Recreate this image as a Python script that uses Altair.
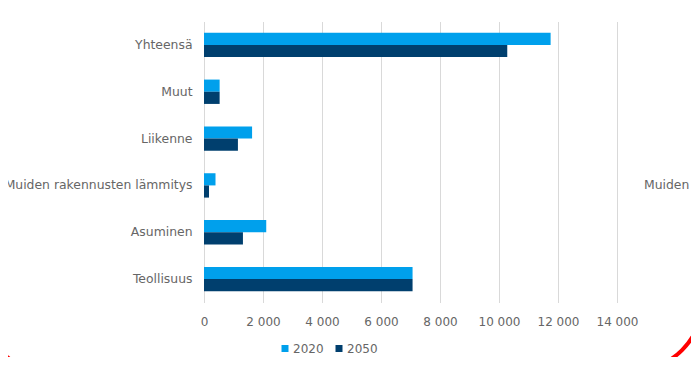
import altair as alt
import pandas as pd

categories = ["Yhteensä", "Muut", "Liikenne", "Muiden rakennusten lämmitys", "Asuminen", "Teollisuus"]
years = ["2020", "2050"]
values_2020 = [11750, 530, 1630, 390, 2110, 7070]
values_2050 = [10280, 530, 1150, 170, 1320, 7070]
x_ticks = [0, 2000, 4000, 6000, 8000, 10000, 12000, 14000]
colors = ["#00A0EC", "#003F6E"]

rows = []
for c, v1, v2 in zip(categories, values_2020, values_2050):
    rows.append({"Kategoria": c, "Vuosi": years[0], "Arvo": v1})
    rows.append({"Kategoria": c, "Vuosi": years[1], "Arvo": v2})
df = pd.DataFrame(rows)

FONT = "DejaVu Sans"
GRAY = "#666666"

bars = alt.Chart(df).mark_bar().encode(
    y=alt.Y(
        "Kategoria:N",
        sort=categories,
        scale=alt.Scale(paddingInner=0.48, paddingOuter=0.24),
        axis=alt.Axis(title=None, labelFont=FONT, labelFontSize=12.4, labelColor=GRAY,
                      ticks=False, domain=False, labelPadding=12, labelLimit=400),
    ),
    yOffset=alt.YOffset("Vuosi:N", sort=years, scale=alt.Scale(paddingInner=0, paddingOuter=0)),
    x=alt.X(
        "Arvo:Q",
        scale=alt.Scale(domain=[0, 14000], nice=False),
        axis=alt.Axis(values=x_ticks, title=None, grid=True, gridColor="#d9d9d9",
                      domain=False, ticks=False, labelPadding=14, labelFont=FONT,
                      labelFontSize=12, labelColor=GRAY, labelOverlap=False,
                      labelFlush=False,
                      labelExpr="replace(format(datum.value, ','), ',', ' ')"),
    ),
    color=alt.Color(
        "Vuosi:N",
        scale=alt.Scale(domain=years, range=colors),
        legend=alt.Legend(title=None, orient="none", legendX=75, legendY=321,
                          direction="horizontal", symbolType="square", symbolSize=49,
                          symbolStrokeWidth=0, labelFont=FONT, labelFontSize=12,
                          labelColor=GRAY, columnPadding=9, labelOffset=2),
    ),
)

side_label = alt.Chart(pd.DataFrame({"Kategoria": [categories[3]]})).mark_text(
    align="left", baseline="middle", font=FONT, fontSize=12.4, color=GRAY
).encode(
    y=alt.Y("Kategoria:N", sort=categories),
    x=alt.value(440),
    text="Kategoria:N",
)

frame = alt.Chart(pd.DataFrame({"f": [0]})).mark_rect(
    cornerRadius=68, stroke="#FF0000", strokeWidth=4, fillOpacity=0, fill="white"
).encode(
    x=alt.value(-225), x2=alt.value(498), y=alt.value(-300), y2=alt.value(348.5)
)

chart = alt.layer(bars, side_label, frame).properties(
    width=413, height=281,
    autosize=alt.AutoSizeParams(type="none"),
    padding={"left": 196, "top": 13.5, "right": 74, "bottom": 54.5},
).configure_view(stroke=None)

chart.save("out.html", embed_options={"renderer": "svg", "actions": False})
